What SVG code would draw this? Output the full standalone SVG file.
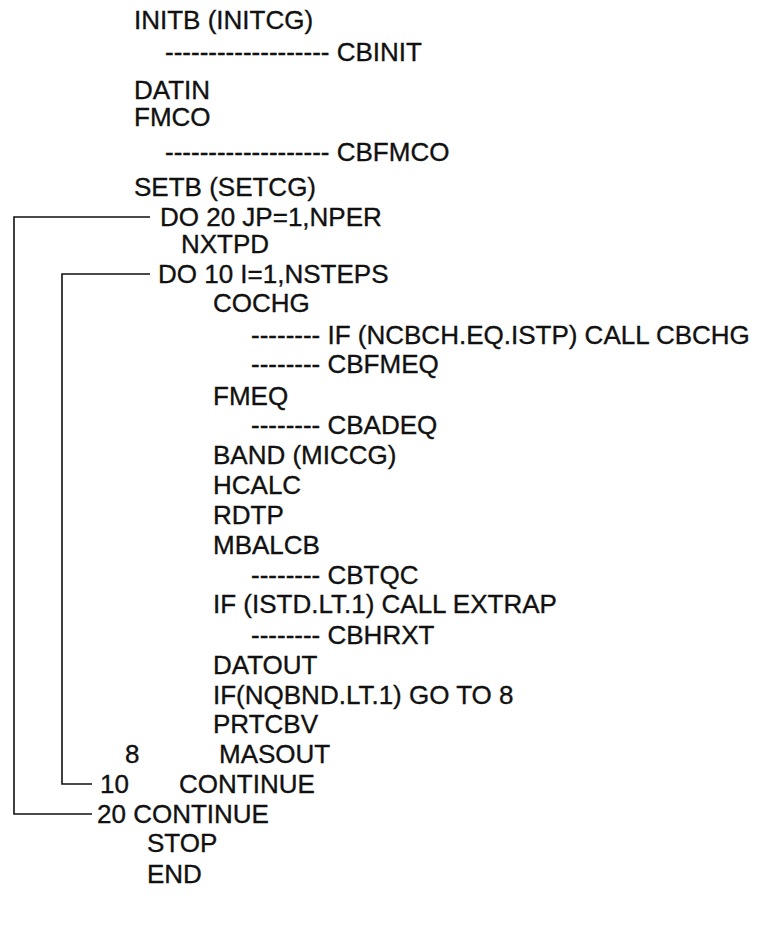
<svg xmlns="http://www.w3.org/2000/svg" width="757" height="926" viewBox="0 0 757 926">
  <style>
    text { font-family: "Liberation Sans", Arial, Helvetica, sans-serif; font-size: 26px; fill: #111; stroke: #111; stroke-width: 0.35; }
    .br { fill: none; stroke: #111; stroke-width: 1.6; }
  </style>
  <rect width="757" height="926" fill="#fff"/>
  <g id="connectors">
    <polyline class="br" points="150,217 14,217 14,814 92,814"/>
    <polyline class="br" points="150,274 62,274 62,784 92,784"/>
  </g>
  <g id="n-initb"><text x="134" y="29">INITB (INITCG)</text></g>
  <g id="n-cbinit"><text x="165" y="61">------------------- CBINIT</text></g>
  <g id="n-datin"><text x="134" y="99">DATIN</text></g>
  <g id="n-fmco"><text x="134" y="126">FMCO</text></g>
  <g id="n-cbfmco"><text x="165" y="161">------------------- CBFMCO</text></g>
  <g id="n-setb"><text x="134" y="196">SETB (SETCG)</text></g>
  <g id="n-do20"><text x="160" y="226">DO 20 JP=1,NPER</text></g>
  <g id="n-nxtpd"><text x="181" y="253">NXTPD</text></g>
  <g id="n-do10"><text x="158" y="283">DO 10 I=1,NSTEPS</text></g>
  <g id="n-cochg"><text x="213" y="312">COCHG</text></g>
  <g id="n-cbchg"><text x="251" y="344">-------- IF (NCBCH.EQ.ISTP) CALL CBCHG</text></g>
  <g id="n-cbfmeq"><text x="251" y="373">-------- CBFMEQ</text></g>
  <g id="n-fmeq"><text x="213" y="405">FMEQ</text></g>
  <g id="n-cbadeq"><text x="251" y="434">-------- CBADEQ</text></g>
  <g id="n-band"><text x="213" y="464">BAND (MICCG)</text></g>
  <g id="n-hcalc"><text x="213" y="494">HCALC</text></g>
  <g id="n-rdtp"><text x="213" y="524">RDTP</text></g>
  <g id="n-mbalcb"><text x="213" y="554">MBALCB</text></g>
  <g id="n-cbtqc"><text x="251" y="584">-------- CBTQC</text></g>
  <g id="n-extrap"><text x="213" y="613">IF (ISTD.LT.1) CALL EXTRAP</text></g>
  <g id="n-cbhrxt"><text x="251" y="644">-------- CBHRXT</text></g>
  <g id="n-datout"><text x="213" y="674">DATOUT</text></g>
  <g id="n-ifnqbnd"><text x="213" y="704">IF(NQBND.LT.1) GO TO 8</text></g>
  <g id="n-prtcbv"><text x="213" y="733">PRTCBV</text></g>
  <g id="n-masout"><text x="125" y="763">8</text><text x="219" y="763">MASOUT</text></g>
  <g id="n-cont10"><text x="100" y="793">10</text><text x="179" y="793">CONTINUE</text></g>
  <g id="n-cont20"><text x="97" y="823">20 CONTINUE</text></g>
  <g id="n-stop"><text x="147" y="852">STOP</text></g>
  <g id="n-end"><text x="147" y="883">END</text></g>
</svg>
